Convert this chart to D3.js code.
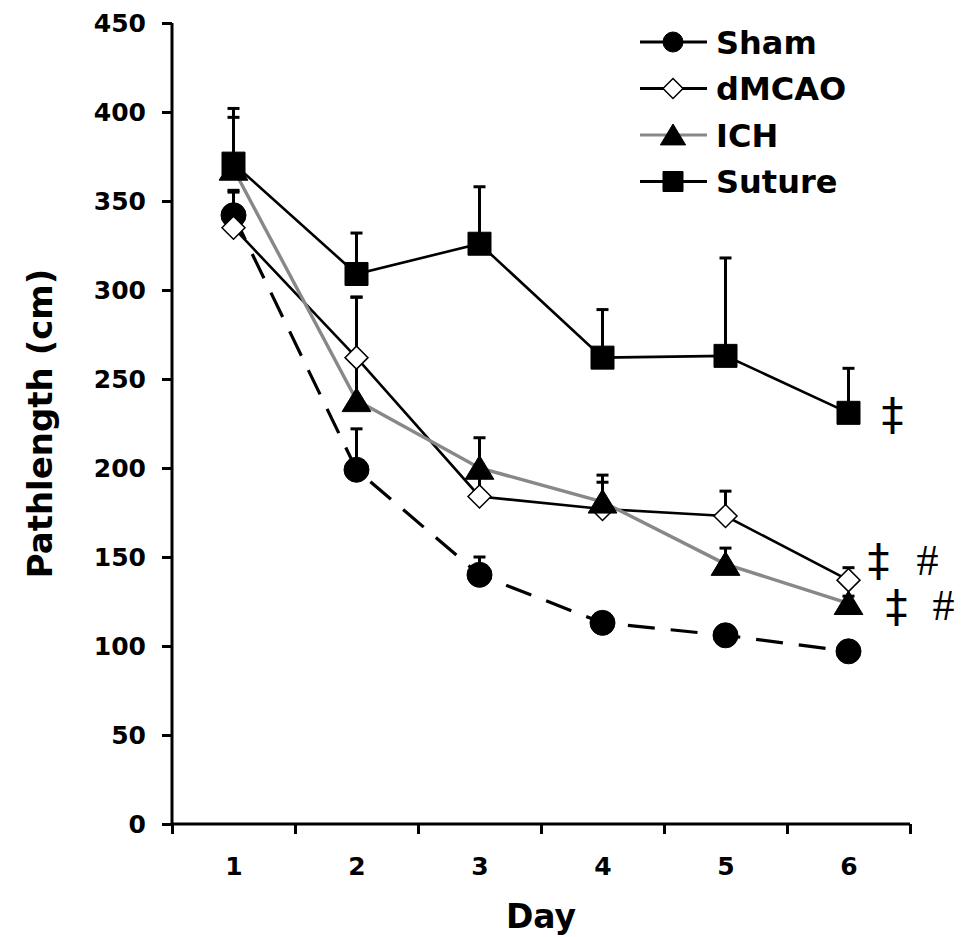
<!DOCTYPE html>
<html>
<head>
<meta charset="utf-8">
<script src="https://cdn.jsdelivr.net/npm/d3@7"></script>
<style>
  body { margin: 0; background: #fff; }
  svg { display: block; }
  text { font-family: "DejaVu Sans", Verdana, sans-serif; font-weight: bold; fill: #000; }
</style>
</head>
<body>
<div id="chart"></div>
<script>
const days = [1, 2, 3, 4, 5, 6];
const yTicks = [0, 50, 100, 150, 200, 250, 300, 350, 400, 450];

// mean values
const sham   = [342, 199, 140, 113, 106, 97];
const dmcao  = [335, 262, 184, 177, 173, 137];
const ich    = [368, 238, 200, 181, 146, 124];
const suture = [371, 309, 326, 262, 263, 231];

// upper error (SEM)
const shamErr   = [14, 23, 10, 3, 3, 2];
const dmcaoErr  = [20, 34, 12, 15, 14, 7];
const ichErr    = [29, 58, 17, 15, 9, 4];
const sutureErr = [31, 23, 32, 27, 55, 25];

const seriesNames = ['Sham', 'dMCAO', 'ICH', 'Suture'];

// significance marks next to day 6
const marks = [
  { text: '\u2021', value: 229, dx: 44 },
  { text: '\u2021', value: 147, dx: 30 },
  { text: '#',      value: 148, dx: 79 },
  { text: '\u2021', value: 121, dx: 48 },
  { text: '#',      value: 123, dx: 95 }
];

const width = 963, height = 937;
const svg = d3.select('#chart').append('svg')
  .attr('width', width)
  .attr('height', height);

const x = d3.scaleLinear().domain([0.5, 6.5]).range([172, 910]);
const y = d3.scaleLinear().domain([0, 450]).range([824, 23]);

const series = [
  { name: seriesNames[0], values: sham, err: shamErr, line: '#000', lw: 3.2, dash: '27,16', marker: 'circle' },
  { name: seriesNames[1], values: dmcao, err: dmcaoErr, line: '#000', lw: 2.6, dash: null, marker: 'diamond' },
  { name: seriesNames[2], values: ich, err: ichErr, line: '#888', lw: 3.4, dash: null, marker: 'triangle' },
  { name: seriesNames[3], values: suture, err: sutureErr, line: '#000', lw: 2.6, dash: null, marker: 'square' }
];

const markerPath = (type, s) => {
  if (type === 'circle') {
    return `M${-s},0A${s},${s} 0 1,0 ${s},0A${s},${s} 0 1,0 ${-s},0Z`;
  } else if (type === 'square') {
    return `M${-s},${-s}H${s}V${s}H${-s}Z`;
  } else if (type === 'diamond') {
    return `M0,${-s}L${s},0L0,${s}L${-s},0Z`;
  }
  // triangle
  return `M0,${-s}L${s * 1.15},${s * 0.9}L${-s * 1.15},${s * 0.9}Z`;
};

const markerSize = { circle: 12.5, square: 11.5, diamond: 11.5, triangle: 12.5 };
const legendSize = { circle: 10, square: 10, diamond: 10, triangle: 11 };

const drawMarker = (g, type, s) => {
  g.append('path')
    .attr('d', markerPath(type, s))
    .attr('fill', type === 'diamond' ? '#fff' : '#000')
    .attr('stroke', '#000')
    .attr('stroke-width', type === 'diamond' ? 1.5 : 1);
};

// axes
const yAxis = d3.axisLeft(y).tickValues(yTicks).tickSize(10).tickPadding(16);
const gy = svg.append('g').attr('transform', `translate(${x(0.5)},0)`).call(yAxis);
gy.select('.domain').attr('stroke-width', 3).attr('d', `M0,${y(450)}V${y(0)}`);
gy.selectAll('.tick line').attr('stroke-width', 3);
gy.selectAll('.tick text').style('font-size', '25px');

const xAxisTicks = d3.axisBottom(x)
  .tickValues(d3.range(0.5, 7, 1))
  .tickFormat('')
  .tickSize(10);
const gx = svg.append('g').attr('transform', `translate(0,${y(0)})`).call(xAxisTicks);
gx.select('.domain').attr('stroke-width', 3).attr('d', `M${x(0.5)},0H${x(6.5)}`);
gx.selectAll('.tick line').attr('stroke-width', 3);

const xAxisLabels = d3.axisBottom(x).tickValues(days).tickFormat(d3.format('d')).tickSize(0).tickPadding(33);
const gxl = svg.append('g').attr('transform', `translate(0,${y(0)})`).call(xAxisLabels);
gxl.select('.domain').remove();
gxl.selectAll('.tick text').style('font-size', '25px');

svg.selectAll('.tick text').attr('fill', '#000').style('font-family', '"DejaVu Sans", Verdana, sans-serif').style('font-weight', 'bold');

// axis titles
svg.append('text')
  .attr('transform', `translate(52,${(y(0) + y(450)) / 2}) rotate(-90)`)
  .attr('text-anchor', 'middle')
  .style('font-size', '34px')
  .text('Pathlength (cm)');

svg.append('text')
  .attr('x', x(3.5))
  .attr('y', 928)
  .attr('text-anchor', 'middle')
  .style('font-size', '33px')
  .text('Day');

// error bars (upper only)
const errG = svg.append('g');
series.forEach(s => {
  days.forEach((d, i) => {
    const top = s.values[i] + s.err[i];
    errG.append('line')
      .attr('x1', x(d)).attr('x2', x(d))
      .attr('y1', y(s.values[i])).attr('y2', y(top))
      .attr('stroke', '#000').attr('stroke-width', 3);
    errG.append('line')
      .attr('x1', x(d) - 6).attr('x2', x(d) + 6)
      .attr('y1', y(top)).attr('y2', y(top))
      .attr('stroke', '#000').attr('stroke-width', 3);
  });
});

// lines
const line = d3.line().x((v, i) => x(days[i])).y(v => y(v));
series.forEach(s => {
  svg.append('path')
    .attr('d', line(s.values))
    .attr('fill', 'none')
    .attr('stroke', s.line)
    .attr('stroke-width', s.lw)
    .attr('stroke-dasharray', s.dash);
});

// markers
series.forEach(s => {
  days.forEach((d, i) => {
    const g = svg.append('g').attr('transform', `translate(${x(d)},${y(s.values[i])})`);
    drawMarker(g, s.marker, markerSize[s.marker]);
  });
});

// significance marks
svg.append('g').selectAll('text')
  .data(marks)
  .join('text')
  .attr('x', d => x(6) + d.dx)
  .attr('y', d => y(d.value))
  .attr('dy', d => d.text === '#' ? '0.33em' : '0.3em')
  .attr('text-anchor', 'middle')
  .style('font-family', d => d.text === '#' ? '"Liberation Serif", "Times New Roman", serif' : '"DejaVu Sans", Verdana, sans-serif')
  .style('font-weight', 'normal')
  .style('font-size', d => d.text === '#' ? '44px' : '44px')
  .text(d => d.text);

// legend
const legend = svg.append('g').attr('transform', 'translate(640,42)');
series.forEach((s, i) => {
  const row = legend.append('g').attr('transform', `translate(0,${i * 46.5})`);
  row.append('line')
    .attr('x1', 0).attr('x2', 67)
    .attr('stroke', s.line)
    .attr('stroke-width', 3);
  const m = row.append('g').attr('transform', 'translate(33,0)');
  drawMarker(m, s.marker, legendSize[s.marker]);
  row.append('text')
    .attr('x', 76)
    .attr('dy', '0.36em')
    .style('font-size', '32px')
    .text(s.name);
});
</script>
</body>
</html>
